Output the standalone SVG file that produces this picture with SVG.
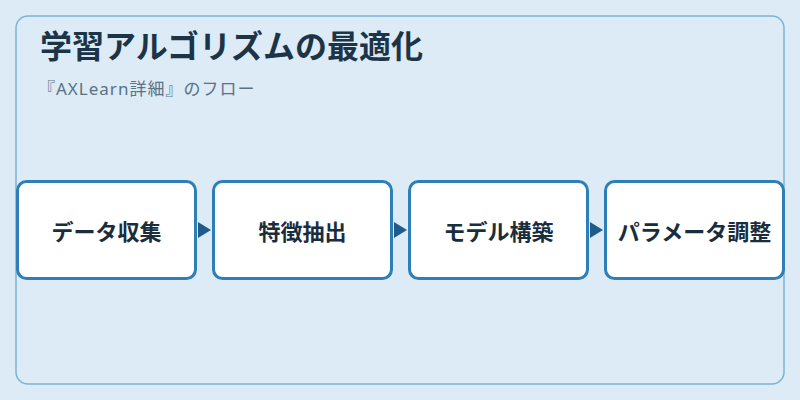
<svg xmlns="http://www.w3.org/2000/svg" width="800" height="400" viewBox="0 0 800 400">
<style>
.bg{fill:#dcebf6}
.panel{fill:#dcebf6;stroke:#7ab3d6;stroke-width:1.5}
.box{fill:#ffffff;stroke:#2e7fb8;stroke-width:3}
.lbl{font-family:"Noto Sans CJK JP","Noto Sans",sans-serif;font-size:22px;font-weight:700;fill:#1a2d3d;text-anchor:middle;dominant-baseline:central}
.title{font-family:"Noto Sans CJK JP","Noto Sans",sans-serif;font-size:32px;font-weight:700;fill:#1b3447}
.sub{font-family:"Noto Sans","Noto Sans CJK JP",sans-serif;font-size:17px;letter-spacing:1px;fill:#5b7185}
.arr{fill:#1f5c8c}
</style>
<rect class="bg" x="0" y="0" width="800" height="400"/>
<rect class="panel" x="16" y="16" width="768" height="368" rx="12"/>
<text class="title" x="40" y="58">学習アルゴリズムの最適化</text>
<text class="sub" x="38" y="95">『AXLearn詳細』のフロー</text>
<g id="connectors">
<path class="arr" d="M198,222 L211,230 L198,238 Z"/>
<path class="arr" d="M394,222 L407,230 L394,238 Z"/>
<path class="arr" d="M590,222 L603,230 L590,238 Z"/>
</g>
<g id="node1">
<rect class="box" x="17.5" y="181.5" width="178" height="97" rx="9"/>
<text class="lbl" x="106.5" y="230">データ収集</text>
</g>
<g id="node2">
<rect class="box" x="213.5" y="181.5" width="178" height="97" rx="9"/>
<text class="lbl" x="302.5" y="230">特徴抽出</text>
</g>
<g id="node3">
<rect class="box" x="409.5" y="181.5" width="178" height="97" rx="9"/>
<text class="lbl" x="498.5" y="230">モデル構築</text>
</g>
<g id="node4">
<rect class="box" x="605.5" y="181.5" width="178" height="97" rx="9"/>
<text class="lbl" x="694.5" y="230">パラメータ調整</text>
</g>
</svg>
